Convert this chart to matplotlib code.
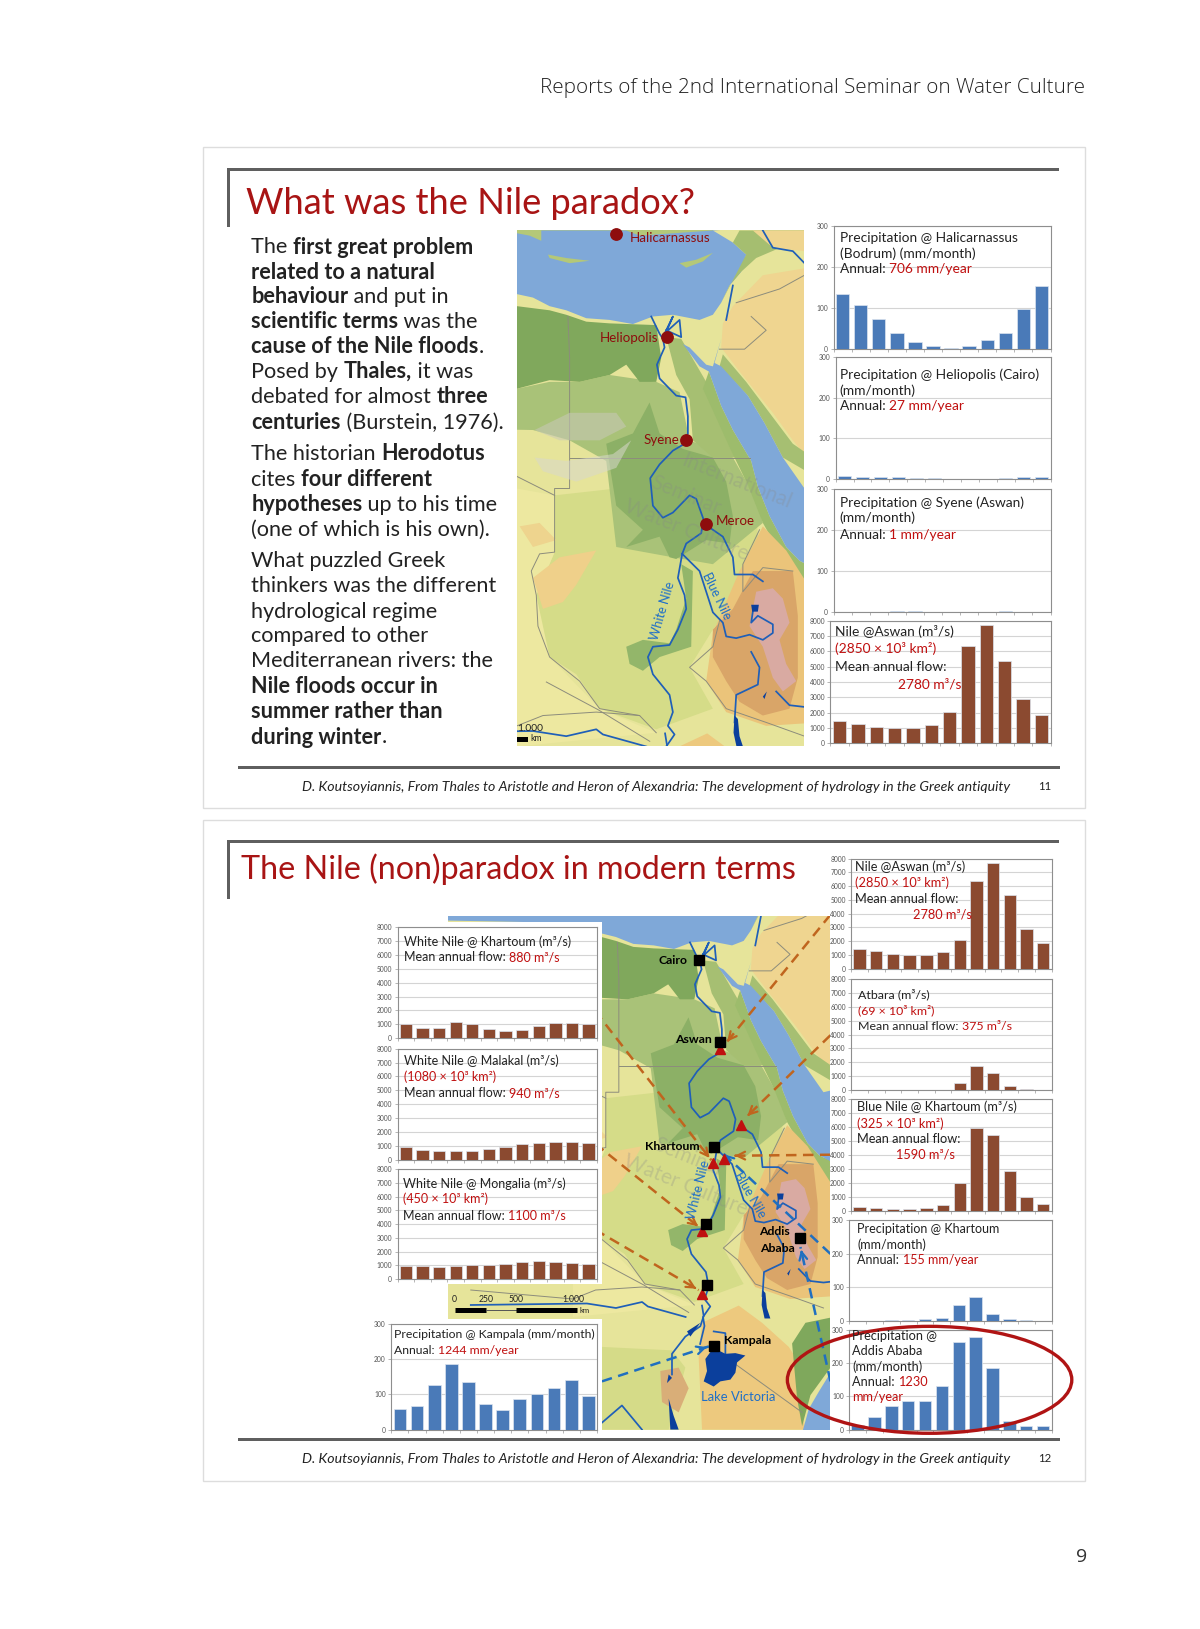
import matplotlib
matplotlib.use("Agg")
import matplotlib.pyplot as plt
from matplotlib.patches import Polygon, Rectangle, Ellipse

plt.rcParams['font.family'] = ['Lato', 'DejaVu Sans']

# ---------- data ----------
halicarnassus = [135, 108, 73, 38, 17, 6, 2, 7, 21, 40, 97, 155]
heliopolis = [6, 4, 4, 3, 1, 1, 0, 0, 0, 1, 3, 4]
syene = [0, 0, 0, 0.3, 0.3, 0, 0, 0, 0, 0.3, 0, 0]
nile_aswan = [1450, 1250, 1040, 1000, 1000, 1180, 2060, 6350, 7700, 5350, 2880, 1880]
atbara = [10, 10, 10, 10, 10, 10, 550, 1760, 1210, 280, 50, 20]
blue_nile = [280, 190, 140, 130, 180, 430, 2000, 5950, 5420, 2870, 980, 480]
khartoum_p = [0, 0, 0.5, 1, 4, 7, 48, 70, 21, 4, 1, 0]
addis_p = [14, 38, 70, 85, 86, 132, 265, 280, 185, 27, 11, 10]
wn_khartoum = [1000, 740, 770, 1160, 1010, 700, 550, 560, 860, 1130, 1080, 1060]
wn_malakal = [930, 720, 640, 600, 640, 790, 930, 1110, 1180, 1280, 1280, 1190]
wn_mongalia = [980, 920, 890, 950, 1050, 1060, 1130, 1280, 1320, 1270, 1180, 1100]
kampala_p = [58, 68, 127, 185, 134, 72, 56, 87, 100, 119, 142, 95]

precip_ticks = [0, 100, 200, 300]
flow_ticks = [0, 1000, 2000, 3000, 4000, 5000, 6000, 7000, 8000]

W, H = 1156, 1569
BLUE, BROWN = '#4A7AB8', '#8B4A30'
RED = '#C00F0F'
TITLE_RED = '#A81414'
DARK = '#222222'

fig = plt.figure(figsize=(12, 16.29), dpi=100, facecolor='white')


def pix_axes(x0, y0, x1, y1):
    return fig.add_axes([x0 / W, 1 - y1 / H, (x1 - x0) / W, (y1 - y0) / H])


bg = pix_axes(0, 0, W, H)
bg.set_xlim(0, W)
bg.set_ylim(H, 0)
bg.axis('off')
bg.set_zorder(0)

top = pix_axes(0, 0, W, H)
top.set_xlim(0, W)
top.set_ylim(H, 0)
top.axis('off')
top.set_zorder(50)
top.patch.set_alpha(0)

renderer = fig.canvas.get_renderer()


def twidth(s, **kw):
    a = top.text(0, 0, 'n' + s + 'n', **kw)
    b = top.text(0, 0, 'nn', **kw)
    w = a.get_window_extent(renderer).width - b.get_window_extent(renderer).width
    a.remove()
    b.remove()
    return w * W / fig.bbox.width


def runs(x, y, parts, size, ax=top):
    for s, col, weight in parts:
        ax.text(x, y, s, color=col, fontsize=size, fontweight=weight, va='center', ha='left')
        x += twidth(s, fontsize=size, fontweight=weight)


# ---------- page ----------
bg.text(1045, 85, 'Reports of the 2nd International Seminar on Water Culture', ha='right', va='center',
        fontsize=14.9, family='Open Sans', fontweight='light', color='#222222')
bg.text(1047, 1500, '9', ha='right', va='center', fontsize=14, family='Open Sans', color='#333333')

for y0, y1 in [(142, 778), (790, 1426)]:
    bg.add_patch(Rectangle((196, y0), 849, y1 - y0, fc='white', ec='#DDDDDD', lw=1))

GREY = '#5F5F5F'
for ytop, ybot in [(162, 738), (809, 1385)]:
    bg.add_patch(Rectangle((219, ytop), 801, 3, fc=GREY, ec='none'))
    bg.add_patch(Rectangle((219, ytop), 2.4, 57, fc=GREY, ec='none'))
    bg.add_patch(Rectangle((229, ybot), 792, 3, fc=GREY, ec='none'))

bg.text(237, 196, 'What was the Nile paradox?', color=TITLE_RED, fontsize=26.1, va='center')
bg.text(232, 837, 'The Nile (non)paradox in modern terms', color=TITLE_RED, fontsize=23.2, va='center')

FOOT = ('D. Koutsoyiannis, From Thales to Aristotle and Heron of Alexandria: '
        'The development of hydrology in the Greek antiquity')
for y, n in [(758, '11'), (1405, '12')]:
    bg.text(291, y, FOOT, fontsize=10.15, style='italic', color='#222222', va='center')
    bg.text(1013, y, n, fontsize=8.2, color='#222222', va='center', ha='right')

# ---------- left text ----------
K = DARK
lines = [
    (238, [('The ', 'normal'), ('first great problem', 'bold')]),
    (262, [('related to a natural', 'bold')]),
    (286, [('behaviour', 'bold'), (' and put in', 'normal')]),
    (310, [('scientific terms', 'bold'), (' was the', 'normal')]),
    (334, [('cause of the Nile floods', 'bold'), ('.', 'normal')]),
    (358, [('Posed by ', 'normal'), ('Thales,', 'bold'), (' it was', 'normal')]),
    (382, [('debated for almost ', 'normal'), ('three', 'bold')]),
    (407, [('centuries', 'bold'), (' (Burstein, 1976).', 'normal')]),
    (437, [('The historian ', 'normal'), ('Herodotus', 'bold')]),
    (462, [('cites ', 'normal'), ('four different', 'bold')]),
    (486, [('hypotheses', 'bold'), (' up to his time', 'normal')]),
    (510, [('(one of which is his own).', 'normal')]),
    (540, [('What puzzled Greek', 'normal')]),
    (564, [('thinkers was the different', 'normal')]),
    (589, [('hydrological regime', 'normal')]),
    (613, [('compared to other', 'normal')]),
    (637, [('Mediterranean rivers: the', 'normal')]),
    (661, [('Nile floods occur in', 'bold')]),
    (685, [('summer rather than', 'bold')]),
    (710, [('during winter', 'bold'), ('.', 'normal')]),
]
for y, parts in lines:
    runs(242, y, [(s, K, w) for s, w in parts], 15.6)

# ---------- map geometry (map-sheet units) ----------
SEA = '#7FA8D8'
LAND = '#E6E49A'


def S(pts):
    return [((x + 92) / .87, (y + 148) / .87) for x, y in pts]


land = [(-500, 205), (52, 215), (100, 225), (150, 250), (200, 262), (260, 285), (330, 290), (400, 302), (460, 280),
        (520, 275), (600, 290), (640, 275), (665, 240), (690, 190), (725, 150), (740, 100), (700, 65), (640, 30),
        (1100, 0), (1100, 1000), (915, 1000), (1100, 2100), (-500, 2100)]
turkey_w = [(52, 0), (52, 38), (90, 45), (125, 60), (125, 30), (380, 30), (420, 45), (640, 30), (640, 0)]
red_sea = [(550, 360), (600, 425), (628, 440), (665, 540), (700, 610), (755, 700), (775, 775), (810, 860), (860, 950),
           (900, 990), (1000, 1040), (1000, 760), (915, 780), (850, 690), (795, 590), (745, 510), (665, 425),
           (645, 415), (665, 345), (640, 425), (620, 420), (570, 370)]
ocean = S([(760, 1320), (725, 1345), (690, 1400), (660, 1450), (640, 1520), (760, 1520)])
crete = [(145, 100), (200, 110), (270, 118), (210, 125), (150, 110)]
cyprus = [(540, 125), (590, 115), (640, 95), (610, 120), (560, 138)]

central = [(165, 800), (350, 780), (770, 830), (780, 1010), (640, 1190), (570, 1300), (640, 1420), (470, 1480),
           (300, 1420), (230, 1320), (150, 1270), (115, 1180), (110, 1090), (165, 965)]
mid_green = [(-500, 490), (52, 490), (150, 470), (240, 470), (330, 450), (470, 470), (540, 500), (570, 640),
             (700, 690), (770, 810), (790, 880), (640, 1000), (520, 980), (350, 950), (320, 700), (210, 640),
             (100, 610), (-500, 600)]
dark_green = [(-500, 210), (52, 250), (150, 262), (200, 275), (260, 295), (330, 300), (470, 305), (485, 400),
              (470, 470), (420, 470), (380, 420), (330, 450), (240, 470), (150, 465), (52, 490), (-500, 490)]
delta_east = [(545, 345), (620, 470), (665, 560), (745, 690), (640, 690), (580, 640), (570, 520), (530, 450), (500, 340)]
nubian = [(320, 650), (400, 620), (450, 530), (480, 620), (550, 665), (640, 690), (680, 760), (700, 860), (690, 940),
          (620, 930), (530, 985), (510, 980), (480, 920), (380, 950), (430, 900), (350, 830)]
sudd = [(380, 1240), (430, 1220), (510, 1230), (530, 1190), (560, 1100), (545, 1000), (580, 1020), (575, 1240),
        (480, 1270), (430, 1310), (390, 1290)]
darfur = [(100, 1040), (180, 980), (290, 960), (230, 1060), (190, 1110), (130, 1130)]
darfur2 = [(60, 890), (120, 880), (170, 930), (100, 950)]
west_pale = [(52, 780), (165, 800), (165, 965), (110, 1090), (150, 1270), (300, 1420), (470, 1490), (52, 1530)]
arabia = [(700, 250), (790, 160), (915, 140), (1000, 140), (1000, 780), (880, 640), (820, 560), (720, 440),
          (665, 370), (670, 300)]
arabia_green = [(660, 425), (745, 510), (795, 590), (850, 690), (1000, 775), (1000, 730), (880, 650), (810, 560),
                (740, 470), (670, 390)]
levant_green = [(665, 240), (690, 190), (725, 150), (770, 110), (915, 50), (915, 30), (720, 30), (700, 65), (740, 100)]
turkey_or = [(760, 30), (915, 30), (915, 90), (820, 80)]
coast_green = [(628, 440), (665, 540), (700, 610), (755, 700), (775, 775), (810, 860), (860, 950), (900, 990),
               (939, 1010), (939, 1090), (860, 1000), (790, 880), (745, 770), (690, 660), (610, 490)]
eth_orange = [(720, 1020), (790, 890), (860, 960), (945, 1090), (960, 1460), (800, 1470), (680, 1430), (620, 1340),
              (640, 1200)]
eth_brown = [(640, 1190), (700, 1130), (760, 1020), (880, 1020), (895, 1150), (895, 1330), (870, 1420), (790, 1440),
             (720, 1400), (680, 1340), (640, 1270)]
eth_pink = [(770, 1080), (820, 1070), (850, 1100), (870, 1170), (840, 1220), (860, 1290), (890, 1340), (850, 1370),
            (820, 1330), (790, 1240), (750, 1180)]
uganda = S([(340, 1200), (450, 1150), (520, 1200), (600, 1270), (640, 1330), (630, 1420), (650, 1510), (340, 1510),
            (330, 1300)])
kenya_green = S([(610, 1260), (650, 1200), (725, 1185), (725, 1330), (665, 1410), (640, 1500), (625, 1420)])
rift_green = S([(40, 1270), (250, 1280), (290, 1330), (240, 1510), (40, 1510)])
ug_brown = S([(215, 1340), (270, 1330), (300, 1390), (270, 1460), (220, 1430)])
swoosh = [(105, 610), (210, 560), (350, 560), (380, 600), (300, 640), (180, 640)]
swoosh2 = [(105, 690), (200, 700), (340, 680), (395, 640), (350, 720), (230, 760), (130, 730)]

terrain = [(central, '#D5DC88'), (west_pale, '#EDE8A0'), (mid_green, '#A9C278'), (dark_green, '#80A85C'),
           (delta_east, '#A6BF72'), (nubian, '#8CB066'), (sudd, '#93B66A'), (darfur, '#EFD08A'),
           (darfur2, '#EED48E'), (arabia, '#EFD590'), (arabia_green, '#A6BF72'), (levant_green, '#A5BE70'),
           (turkey_or, '#EFD590'), (coast_green, '#9DBC6C'), (eth_orange, '#EBC47A'), (eth_brown, '#D9A568'),
           (eth_pink, '#D9AAA2'), (uganda, '#EDC97E'), (kenya_green, '#7FA85C'), (rift_green, '#D5DB88'),
           (ug_brown, '#D9AE78')]

nile_lower = [(455, 280), (480, 330), (490, 345), (495, 370), (472, 420), (480, 460), (530, 510), (558, 515),
              (565, 570), (565, 620), (555, 650), (520, 670), (480, 710), (452, 750), (460, 830), (490, 865),
              (520, 850), (570, 800), (590, 810), (612, 870), (605, 910), (560, 940), (548, 970)]
white_nile = [(548, 970), (535, 1040), (555, 1090), (560, 1130), (535, 1190), (510, 1235), (460, 1240), (445, 1270),
              (460, 1320), (510, 1380), (520, 1430), (505, 1470), (525, 1495), (500, 1530), (505, 1560), (490, 1620)]
blue_river = [(548, 970), (600, 1020), (640, 1140), (670, 1170), (680, 1210), (710, 1215), (750, 1205), (790, 1220),
              (820, 1200), (820, 1175), (775, 1150), (755, 1170), (762, 1125)]
atbara_r = [(625, 890), (670, 920), (700, 980), (705, 1030), (760, 1030), (790, 1050)]
delta1 = [(490, 340), (520, 280), (500, 325), (540, 290), (545, 340), (500, 320)]
sobat = [(755, 1255), (780, 1300), (775, 1350), (710, 1380), (705, 1460)]
bahr = [(-300, 1490), (100, 1485), (200, 1500), (290, 1480), (310, 1495), (440, 1530)]
turkey_r = [(790, 30), (820, 80), (880, 90), (915, 125)]
jordan = [(700, 190), (680, 290)]
omo = [(830, 1370), (870, 1410), (915, 1415), (960, 1410)]
kagera = S([(340, 1150), (345, 1180), (335, 1210), (290, 1240), (250, 1290), (250, 1350)])
vic_out = S([(375, 1225), (410, 1230), (410, 1300)])
south_w = S([(40, 1490), (100, 1440), (160, 1510)])
rivers = [nile_lower, white_nile, blue_river, atbara_r, delta1, sobat, bahr, turkey_r, jordan, omo, kagera, vic_out,
          south_w]

border_sets = [
    [(210, 692), (750, 692)],
    [(205, 280), (210, 400), (210, 780), (165, 780), (165, 965), (120, 970), (95, 1020), (110, 1090), (115, 1180),
     (150, 1270), (240, 1340), (300, 1420), (420, 1440), (470, 1490)],
    [(52, 745), (165, 800)],
    [(915, 160), (840, 200), (710, 240)],
    [(755, 280), (800, 320), (735, 375), (660, 375)],
    [(660, 1165), (640, 1240), (570, 1300), (620, 1340), (680, 1420), (800, 1460), (915, 1500)],
    [(780, 900), (730, 1000), (730, 1080), (790, 1010), (880, 1020)],
    [(-300, 1440), (52, 1470), (130, 1440), (290, 1430), (420, 1440)],
    S([(440, 1320), (640, 1460)]),
    S([(30, 1020), (165, 1090), (300, 1170)]),
]

lakes = [
    S([(350, 1305), (365, 1285), (385, 1278), (410, 1290), (440, 1288), (470, 1295), (445, 1315), (440, 1345),
       (425, 1365), (395, 1370), (375, 1385), (345, 1370), (355, 1340)]),
    [(705, 1440), (715, 1450), (720, 1500), (732, 1535), (712, 1535), (702, 1490)],
    S([(240, 1350), (250, 1360), (235, 1375)]),
    S([(240, 1420), (255, 1470), (270, 1510), (245, 1510)]),
    S([(295, 1225), (335, 1200), (305, 1240)]),
    [(755, 1118), (778, 1118), (775, 1138), (758, 1138)],
    [(790, 1385), (802, 1370), (795, 1392)],
]


def draw_map(ax):
    ax.set_facecolor(SEA)
    ax.add_patch(Polygon(land, fc=LAND, ec='none', zorder=1))
    for poly, col in terrain:
        ax.add_patch(Polygon(poly, fc=col, ec='none', zorder=2))
    ax.add_patch(Polygon(red_sea, fc=SEA, ec='none', zorder=3))
    ax.add_patch(Polygon(ocean, fc=SEA, ec='none', zorder=3))
    for poly in (turkey_w, crete, cyprus):
        ax.add_patch(Polygon(poly, fc='#B4C878', ec='none', zorder=3))
    for b in border_sets:
        ax.plot(*zip(*b), color='#8C8C7C', lw=0.7, zorder=4)
    for r in rivers:
        ax.plot(*zip(*r), color='#1F5FB8', lw=1.25, zorder=5, solid_joinstyle='round')
    for l in lakes:
        ax.add_patch(Polygon(l, fc='#0B3F9C', ec='none', zorder=6))
    ax.set_xticks([])
    ax.set_yticks([])
    for s in ax.spines.values():
        s.set_visible(False)


# ---------- map 1 ----------
m1 = pix_axes(498, 222, 775, 719)
m1.set_zorder(5)
m1.set_xlim(52, 915)
m1.set_ylim(1530, 30)
draw_map(m1)
for poly, col in [(swoosh, '#C9C9B8'), (swoosh2, '#D8D8CC')]:
    m1.add_patch(Polygon(poly, fc=col, ec='none', alpha=.55, zorder=4))
for t, x, y, r, c, s in [('International', 710, 760, -22, '#888888', 15), ('Seminar', 560, 800, -22, '#888888', 15),
                         ('Water Culture', 560, 900, -22, '#888888', 15)]:
    m1.text(x, y, t, rotation=r, color=c, alpha=.28, fontsize=s, ha='center', va='center', zorder=7)
DOT = '#8E0D0D'
for x, y in [(350, 40), (502, 340), (560, 638), (620, 882)]:
    m1.plot(x, y, 'o', ms=8.2, color=DOT, zorder=9, clip_on=False)
for t, x, y in [('Halicarnassus', 392, 52), ('Heliopolis', 300, 342), ('Syene', 432, 640), ('Meroe', 650, 875)]:
    m1.text(x, y, t, color=DOT, fontsize=9.6, va='center', zorder=9)
m1.text(490, 1135, 'White Nile', color='#1F6FC8', fontsize=9.2, rotation=74, ha='center', va='center', zorder=9)
m1.text(652, 1092, 'Blue Nile', color='#1F6FC8', fontsize=9.2, rotation=-64, ha='center', va='center', zorder=9)
m1.text(52, 1478, '1.000', color='#222222', fontsize=7.4, va='center', zorder=9)
m1.text(92, 1508, 'km', color='#222222', fontsize=6.2, va='center', zorder=9)
m1.add_patch(Rectangle((52, 1502), 34, 14, fc='black', ec='none', zorder=9))

# ---------- map 2 ----------
m2 = pix_axes(432, 882, 800, 1377)
m2.set_zorder(5)
m2.set_xlim(-377, 939)
m2.set_ylim(1906, 191)
draw_map(m2)
for t, (x, y) in zip(['Seminar', 'Water Culture'], S([(300, 720), (290, 800)])):
    m2.text(x, y, t, rotation=-22, color='#888888', alpha=.28, fontsize=15, ha='center', va='center', zorder=7)

ORANGE, ARROW_BLUE = '#C0651E', '#1F6FC0'
flow_arrows = [((725, 15), (410, 390), ORANGE), ((725, 365), (470, 605), ORANGE), ((725, 712), (430, 715), ORANGE),
               ((20, 295), (368, 728), ORANGE), ((20, 680), (335, 925), ORANGE), ((20, 930), (330, 1105), ORANGE),
               ((725, 1000), (400, 705), ARROW_BLUE), ((725, 1370), (635, 980), ARROW_BLUE),
               ((40, 1370), (362, 1268), ARROW_BLUE)]
for a, b, c in flow_arrows:
    (xa, ya), (xb, yb) = S([a, b])
    m2.plot([xa, xb], [ya, yb], color=c, lw=1.8, ls=(0, (4.2, 2.6)), zorder=8)
    m2.annotate('', xy=(xb, yb), xytext=(xb + (xa - xb) * .06, yb + (ya - yb) * .06),
                arrowprops=dict(arrowstyle='->', color=c, lw=1.6, mutation_scale=14), zorder=8)

tri = S([(394, 405), (457, 625), (374, 735), (407, 724), (341, 933), (341, 1115)])
squ = S([(330, 148), (395, 385), (376, 690), (351, 914), (355, 1091), (635, 955), (377, 1266)])
m2.plot(*zip(*tri), '^', ms=7, color='#C01010', ls='none', zorder=9)
m2.plot(*zip(*squ), 's', ms=6.6, color='black', ls='none', zorder=10)
for t, p in [('Cairo', (252, 147)), ('Aswan', (314, 378)), ('Khartoum', (252, 688)), ('Addis', (558, 936)),
             ('Ababa', (565, 984)), ('Kampala', (478, 1252))]:
    (x, y), = S([p])
    m2.text(x, y, t, color='black', fontweight='bold', fontsize=8.8, ha='center', va='center', zorder=11)
for t, p, r, fs in [('White Nile', (328, 815), 76, 9.2), ('Blue Nile', (485, 828), -60, 9.2),
                    ('Lake Victoria', (447, 1414), 0, 9.4)]:
    (x, y), = S([p])
    m2.text(x, y, t, color='#1F6FC8', fontsize=fs, rotation=r, ha='center', va='center', zorder=11)

# ---------- white panels, slide 2 ----------
bgw = pix_axes(0, 0, W, H)
bgw.set_xlim(0, W)
bgw.set_ylim(H, 0)
bgw.axis('off')
bgw.set_zorder(6)
bgw.patch.set_alpha(0)
bgw.add_patch(Rectangle((355, 888), 225, 349, fc='white', ec='none'))
bgw.add_patch(Rectangle((355, 1270), 225, 108, fc='white', ec='none'))
bgw.plot([438, 468], [1262, 1262], color='black', lw=3.6, solid_capstyle='butt')
bgw.plot([468, 497], [1262, 1262], color='#555555', lw=.7)
bgw.plot([497, 556], [1262, 1262], color='black', lw=3.6, solid_capstyle='butt')
for t, x in [('0', 438), ('250', 468), ('500', 497), ('1.000', 552)]:
    bgw.text(x, 1252, t, fontsize=6.2, ha='center', va='center', color='#222222')
bgw.text(558, 1262, 'km', fontsize=5.6, va='center', color='#222222')


# ---------- charts ----------
def chart(x0, y0, x1, y1, values, ticks, color):
    ax = pix_axes(x0, y0, x1, y1)
    ax.set_zorder(10)
    ax.bar(range(12), values, width=.74, color=color, edgecolor='#DCE4EE', linewidth=.5, zorder=3)
    ax.set_xlim(-.5, 11.5)
    ax.set_ylim(ticks[0], ticks[-1])
    ax.set_yticks(ticks)
    ax.set_yticklabels(ticks, fontsize=4.8, color='#555555')
    ax.set_xticks([i - .5 for i in range(13)])
    ax.set_xticklabels([])
    ax.tick_params(axis='both', length=2, width=.5, color='#999999', pad=2)
    ax.grid(axis='y', color='#D4D4D4', lw=.8, zorder=1)
    for s in ax.spines.values():
        s.set_color('#8E8E8E')
        s.set_linewidth(.8)
    return ax


chart(803, 218, 1012, 336, halicarnassus, precip_ticks, BLUE)
chart(805, 344, 1012, 461, heliopolis, precip_ticks, BLUE)
chart(803, 471, 1012, 589, syene, precip_ticks, BLUE)
chart(800, 598, 1012, 716, nile_aswan, flow_ticks, BROWN)
chart(820, 827, 1013, 933, nile_aswan, flow_ticks, BROWN)
chart(820, 943, 1013, 1050, atbara, flow_ticks, BROWN)
chart(820, 1059, 1013, 1166, blue_nile, flow_ticks, BROWN)
chart(818, 1175, 1013, 1272, khartoum_p, precip_ticks, BLUE)
chart(818, 1281, 1013, 1377, addis_p, precip_ticks, BLUE)
chart(383, 893, 575, 1000, wn_khartoum, flow_ticks, BROWN)
chart(383, 1010, 575, 1117, wn_malakal, flow_ticks, BROWN)
chart(383, 1126, 575, 1232, wn_mongalia, flow_ticks, BROWN)
chart(377, 1275, 575, 1377, kampala_p, precip_ticks, BLUE)

N = 'normal'
notes = [
    (9.9, 809, 229, [('Precipitation @ Halicarnassus', K, N)]),
    (9.9, 809, 244, [('(Bodrum) (mm/month)', K, N)]),
    (9.9, 809, 259, [('Annual: ', K, N), ('706 mm/year', RED, N)]),
    (9.9, 809, 361, [('Precipitation @ Heliopolis (Cairo)', K, N)]),
    (9.9, 809, 376, [('(mm/month)', K, N)]),
    (9.9, 809, 391, [('Annual: ', K, N), ('27 mm/year', RED, N)]),
    (9.9, 809, 484, [('Precipitation @ Syene (Aswan)', K, N)]),
    (9.9, 809, 499, [('(mm/month)', K, N)]),
    (9.9, 809, 515, [('Annual: ', K, N), ('1 mm/year', RED, N)]),
    (9.9, 804, 608, [('Nile @Aswan (m³/s)', K, N)]),
    (9.9, 804, 625, [('(2850 × 10³ km²)', RED, N)]),
    (9.9, 804, 642, [('Mean annual flow:', K, N)]),
    (9.9, 865, 659, [('2780 m³/s', RED, N)]),
    (9.2, 824, 835, [('Nile @Aswan (m³/s)', K, N)]),
    (9.2, 824, 850, [('(2850 × 10³ km²)', RED, N)]),
    (9.2, 824, 866, [('Mean annual flow:', K, N)]),
    (9.2, 880, 881, [('2780 m³/s', RED, N)]),
    (8.9, 827, 958, [('Atbara (m³/s)', K, N)]),
    (8.9, 827, 973, [('(69 × 10³ km²)', RED, N)]),
    (8.9, 827, 989, [('Mean annual flow: ', K, N), ('375 m³/s', RED, N)]),
    (9.2, 826, 1066, [('Blue Nile @ Khartoum (m³/s)', K, N)]),
    (9.2, 826, 1082, [('(325 × 10³ km²)', RED, N)]),
    (9.2, 826, 1097, [('Mean annual flow:', K, N)]),
    (9.2, 863, 1112, [('1590 m³/s', RED, N)]),
    (9.0, 826, 1184, [('Precipitation @ Khartoum', K, N)]),
    (9.0, 826, 1199, [('(mm/month)', K, N)]),
    (9.0, 826, 1214, [('Annual: ', K, N), ('155 mm/year', RED, N)]),
    (9.2, 821, 1287, [('Precipitation @', K, N)]),
    (9.2, 821, 1301, [('Addis Ababa', K, N)]),
    (9.2, 821, 1316, [('(mm/month)', K, N)]),
    (9.2, 821, 1331, [('Annual: ', K, N), ('1230', RED, N)]),
    (9.2, 821, 1346, [('mm/year', RED, N)]),
    (9.0, 389, 907, [('White Nile @ Khartoum (m³/s)', K, N)]),
    (9.0, 389, 922, [('Mean annual flow: ', K, N), ('880 m³/s', RED, N)]),
    (9.0, 389, 1022, [('White Nile @ Malakal (m³/s)', K, N)]),
    (9.0, 389, 1037, [('(1080 × 10³ km²)', RED, N)]),
    (9.0, 389, 1053, [('Mean annual flow: ', K, N), ('940 m³/s', RED, N)]),
    (9.0, 388, 1140, [('White Nile @ Mongalia (m³/s)', K, N)]),
    (9.0, 388, 1155, [('(450 × 10³ km²)', RED, N)]),
    (9.0, 388, 1171, [('Mean annual flow: ', K, N), ('1100 m³/s', RED, N)]),
    (8.85, 380, 1285, [('Precipitation @ Kampala (mm/month)', K, N)]),
    (8.85, 380, 1301, [('Annual: ', K, N), ('1244 mm/year', RED, N)]),
]
for fs, x, y, parts in notes:
    runs(x, y, parts, fs)

top.add_patch(Ellipse((895.5, 1329), 274, 103, fc='none', ec='#B01414', lw=2.4))

fig.savefig('out.png', dpi=100, facecolor='white')
